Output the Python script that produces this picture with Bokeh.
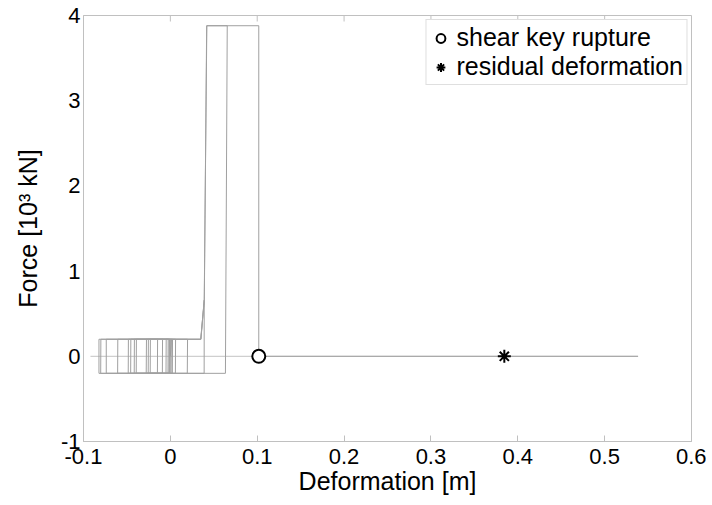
import math
from bokeh.plotting import figure
from bokeh.models import Range1d, FixedTicker
from bokeh.embed import file_html
from bokeh.resources import INLINE

# ---- data ----
x_ticks = [-0.1, 0.0, 0.1, 0.2, 0.3, 0.4, 0.5, 0.6]
x_tick_labels = ["-0.1", "0", "0.1", "0.2", "0.3", "0.4", "0.5", "0.6"]
y_ticks = [-1, 0, 1, 2, 3, 4]
y_tick_labels = ["-1", "0", "1", "2", "3", "4"]

# force-deformation history (deformation in m, force in 10^3 kN)
hyst_x = [0.0000, 0.0011, 0.0198, 0.0195, -0.0278, -0.0275, 0.0060, 0.0058,
          -0.0822, -0.0822, 0.0025, 0.0023, -0.0607, -0.0605, -0.0090, -0.0092,
          -0.0485, -0.0483, 0.0000, -0.0002, -0.0457, -0.0455, -0.0011, -0.0013,
          -0.0802, -0.0800, -0.0025, -0.0027, -0.0416, -0.0414, -0.0147, -0.0149,
          -0.0393, -0.0391, 0.0011, 0.0009, -0.0255, -0.0253, -0.0011, -0.0013,
          -0.0232, -0.0230, 0.0350, 0.0390, 0.0389, -0.0738, -0.0738, 0.0350,
          0.0390, 0.0420, 0.0655, 0.0634, -0.0050, -0.0048, 0.0352, 0.0391,
          0.0418, 0.1018, 0.1018, 0.5385]
hyst_y = [0.0, 0.2, 0.2, -0.2, -0.2, 0.2, 0.2, -0.2,
          -0.2, 0.2, 0.2, -0.2, -0.2, 0.2, 0.2, -0.2,
          -0.2, 0.2, 0.2, -0.2, -0.2, 0.2, 0.2, -0.2,
          -0.2, 0.2, 0.2, -0.2, -0.2, 0.2, 0.2, -0.2,
          -0.2, 0.2, 0.2, -0.2, -0.2, 0.2, 0.2, -0.2,
          -0.2, 0.2, 0.2, 0.66, -0.2, -0.2, 0.2, 0.2,
          0.66, 3.88, 3.88, -0.2, -0.2, 0.2, 0.2, 0.66,
          3.88, 3.88, 0.0, 0.0]
zero_x = [-0.092, 0.5385]
zero_y = [0.0, 0.0]
rupture_x = [0.1018]
rupture_y = [0.0]
residual_x = [0.3845]
residual_y = [0.0]

FONT = "Liberation Sans"
GRAY = "#c0c0c0"

p = figure(width=706, height=503,
           x_range=Range1d(x_ticks[0], x_ticks[-1]),
           y_range=Range1d(y_ticks[0], y_ticks[-1]),
           output_backend="svg", toolbar_location=None,
           min_border_left=83, min_border_right=15,
           min_border_top=15, min_border_bottom=62)
p.grid.visible = False
p.outline_line_color = GRAY
p.background_fill_color = "white"
p.border_fill_color = "white"

# data lines
p.line(zero_x, zero_y, line_color="#c4c4c4", line_width=1)
p.line(hyst_x, hyst_y, line_color="#a0a0a0", line_width=1)

# inward ticks on the top edge of the box
p.ray(x=x_ticks, y=[y_ticks[-1]] * len(x_ticks), length=6, length_units="screen",
      angle=-math.pi / 2, line_color=GRAY, line_width=1)

# markers
p.scatter(rupture_x, rupture_y, marker="circle", size=13, line_color="black",
          fill_color="white", line_width=2, legend_label="shear key rupture")
p.scatter(residual_x, residual_y, marker="asterisk", size=13, line_color="black",
          line_width=2, legend_label="residual deformation")

# bottom axis
xa = p.xaxis[0]
xa.ticker = FixedTicker(ticks=x_ticks)
xa.major_label_overrides = {t: l for t, l in zip(x_ticks, x_tick_labels)}
xa.axis_label = "Deformation [m]"
# left axis
ya = p.yaxis[0]
ya.ticker = FixedTicker(ticks=y_ticks)
ya.major_label_overrides = {t: l for t, l in zip(y_ticks, y_tick_labels)}
ya.axis_label = "Force [10\u00b3 kN]"

for ax in (xa, ya):
    ax.axis_line_color = GRAY
    ax.major_tick_line_color = GRAY
    ax.minor_tick_line_color = None
    ax.major_tick_out = 0
    ax.major_label_text_font = FONT
    ax.major_label_text_font_size = "22px"
    ax.major_label_text_color = "black"
    ax.axis_label_text_font = FONT
    ax.axis_label_text_font_size = "25px"
    ax.axis_label_text_font_style = "normal"
    ax.axis_label_text_color = "black"

xa.major_tick_in = 6
xa.major_label_standoff = 7
xa.axis_label_standoff = 0
ya.major_tick_in = 0
ya.major_label_standoff = 3
ya.axis_label_standoff = 16

# legend
lg = p.legend[0]
lg.location = "top_right"
lg.margin = 4
lg.padding = 3
lg.spacing = 0
lg.glyph_width = 22
lg.glyph_height = 26
lg.label_height = 26
lg.label_standoff = 5
lg.label_text_font = FONT
lg.label_text_font_size = "25px"
lg.label_text_color = "black"
lg.border_line_color = GRAY
lg.border_line_width = 1
lg.background_fill_color = "white"
lg.background_fill_alpha = 1.0

open("out.html", "w").write(file_html(p, INLINE))
